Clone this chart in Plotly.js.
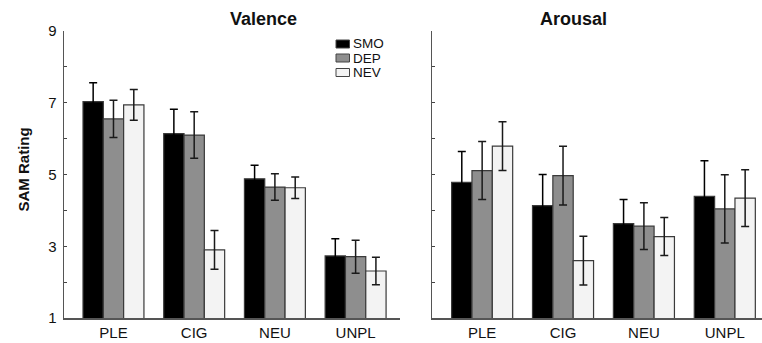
<!DOCTYPE html>
<html>
<head>
<meta charset="utf-8">
<script src="https://cdn.plot.ly/plotly-3.0.1.min.js"></script>
<style>html,body{margin:0;padding:0;background:#fff;}#chart{width:762px;height:343px;}</style>
</head>
<body>
<div id="chart"></div>
<script>
var categories = ['PLE', 'CIG', 'NEU', 'UNPL'];
var groups = ['SMO', 'DEP', 'NEV'];
var panelTitles = ['Valence', 'Arousal'];
var yTitle = 'SAM Rating';
var valenceSMO = [7.03, 6.14, 4.88, 2.73];
var valenceSMOErr = [0.53, 0.68, 0.38, 0.48];
var valenceDEP = [6.55, 6.10, 4.65, 2.71];
var valenceDEPErr = [0.52, 0.65, 0.37, 0.46];
var valenceNEV = [6.94, 2.90, 4.63, 2.31];
var valenceNEVErr = [0.43, 0.54, 0.30, 0.38];
var arousalSMO = [4.78, 4.13, 3.63, 4.39];
var arousalSMOErr = [0.86, 0.87, 0.67, 0.99];
var arousalDEP = [5.11, 4.97, 3.56, 4.04];
var arousalDEPErr = [0.81, 0.82, 0.65, 0.95];
var arousalNEV = [5.79, 2.60, 3.27, 4.34];
var arousalNEVErr = [0.68, 0.68, 0.53, 0.79];

var colors = ['#000000', '#8e8e8e', '#f3f3f3'];
var errColors = ['#000000', '#1a1a1a', '#1a1a1a'];
var font = 'Liberation Sans, Arial, sans-serif';
var W = 762, H = 343, T = 31, B = 25;
var plotH = H - T - B;
function px2x(p) { return p / W; }
function py2y(p) { return (H - B - p) / plotH; }

function mk(name, idx, y, err, xa, ya) {
  return {
    type: 'bar', name: name, x: categories, y: y,
    xaxis: xa, yaxis: ya, showlegend: false,
    marker: {color: colors[idx], line: {color: '#3a3a3a', width: 1.2}},
    error_y: {type: 'data', array: err, visible: true, color: errColors[idx], thickness: 1.5, width: 4}
  };
}

var data = [
  mk(groups[0], 0, valenceSMO, valenceSMOErr, 'x', 'y'),
  mk(groups[1], 1, valenceDEP, valenceDEPErr, 'x', 'y'),
  mk(groups[2], 2, valenceNEV, valenceNEVErr, 'x', 'y'),
  mk(groups[0], 0, arousalSMO, arousalSMOErr, 'x2', 'y2'),
  mk(groups[1], 1, arousalDEP, arousalDEPErr, 'x2', 'y2'),
  mk(groups[2], 2, arousalNEV, arousalNEVErr, 'x2', 'y2')
];

var yax = {
  range: [1, 9], dtick: 2, tick0: 1, ticks: 'inside', ticklen: 3, tickwidth: 1, tickcolor: '#444',
  showline: true, linecolor: '#555', linewidth: 1.5, showgrid: false, zeroline: false,
  ticklabelstandoff: 3,
  tickfont: {family: font, size: 15, color: '#111'},
  minor: {dtick: 1, ticks: 'inside', ticklen: 3, tickwidth: 1, tickcolor: '#444', showgrid: false}
};
var xax = {
  type: 'category', showline: true, linecolor: '#555', linewidth: 1.5, ticks: '', showgrid: false, zeroline: false,
  tickfont: {family: font, size: 15, color: '#111'}
};

var annotations = [
  {text: '<b>' + panelTitles[0] + '</b>', x: px2x(227.5), y: py2y(19), xref: 'paper', yref: 'paper', showarrow: false,
   font: {family: font, size: 18, color: '#111'}, yanchor: 'middle'},
  {text: '<b>' + panelTitles[1] + '</b>', x: px2x(609), y: py2y(19), xref: 'paper', yref: 'paper', showarrow: false,
   font: {family: font, size: 18, color: '#111'}, yanchor: 'middle'},
  {text: '<b>' + yTitle + '</b>', x: px2x(22.5), y: py2y(170), xref: 'paper', yref: 'paper', showarrow: false,
   textangle: -90, font: {family: font, size: 15, color: '#111'}, xanchor: 'center', yanchor: 'middle'}
];
var shapes = [];
var legendY = [44, 58, 72.5];
groups.forEach(function (g, i) {
  shapes.push({type: 'rect', xref: 'paper', yref: 'paper',
    x0: px2x(336), x1: px2x(349.5), y0: py2y(legendY[i] - 4), y1: py2y(legendY[i] + 4),
    fillcolor: colors[i], line: {color: '#444', width: 1}});
  annotations.push({text: g, x: px2x(351), y: py2y(legendY[i]), xref: 'paper', yref: 'paper', showarrow: false,
    xanchor: 'left', yanchor: 'middle', font: {family: font, size: 13.5, color: '#111'}});
});

var layout = {
  width: W, height: H,
  margin: {l: 0, r: 0, t: T, b: B},
  paper_bgcolor: '#fff', plot_bgcolor: '#fff',
  barmode: 'group', bargap: 0.245, bargroupgap: 0,
  font: {family: font, color: '#111'},
  showlegend: false,
  xaxis: Object.assign({}, xax, {domain: [64/W, 400/W], range: [-0.613, 3.55], anchor: 'y'}),
  yaxis: Object.assign({}, yax, {domain: [0, 1], anchor: 'x'}),
  xaxis2: Object.assign({}, xax, {domain: [432/W, 1], range: [-0.62, 3.46], anchor: 'y2'}),
  yaxis2: Object.assign({}, yax, {domain: [0, 1], anchor: 'x2', showticklabels: false}),
  annotations: annotations,
  shapes: shapes
};

Plotly.newPlot('chart', data, layout, {staticPlot: true, displayModeBar: false});
</script>
</body>
</html>
